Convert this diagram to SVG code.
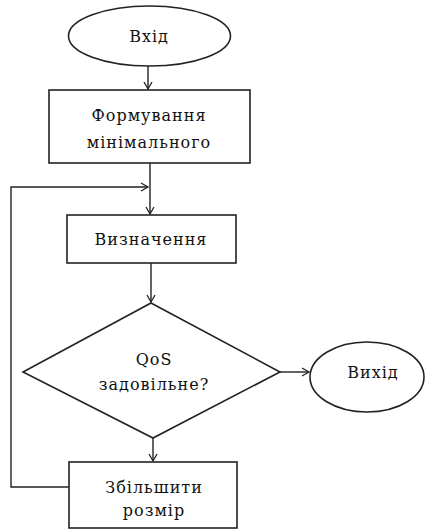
<svg xmlns="http://www.w3.org/2000/svg" width="428" height="531" viewBox="0 0 428 531">
<style>
.s{fill:#fff;stroke:#222;stroke-width:1.6}
.t{font-family:"DejaVu Serif","Liberation Serif",serif;font-size:16px;letter-spacing:1px;fill:#111;text-anchor:middle}
.c{fill:none;stroke:#222;stroke-width:1.4}
</style>
<defs>
<marker id="a" markerWidth="10" markerHeight="10" refX="8" refY="5" orient="auto" markerUnits="userSpaceOnUse">
<polyline points="1,1 8,5 1,9" fill="none" stroke="#222" stroke-width="1.3"/>
</marker>
</defs>
<rect width="428" height="531" fill="#fff"/>
<g id="connectors">
<line class="c" x1="148" y1="66" x2="148" y2="89" marker-end="url(#a)"/>
<line class="c" x1="150" y1="163" x2="150" y2="214" marker-end="url(#a)"/>
<line class="c" x1="151" y1="263" x2="151" y2="302" marker-end="url(#a)"/>
<line class="c" x1="280" y1="372" x2="309" y2="372" marker-end="url(#a)"/>
<line class="c" x1="153" y1="438" x2="153" y2="461" marker-end="url(#a)"/>
<polyline class="c" points="69,487 11,487 11,187 148,187" marker-end="url(#a)"/>
</g>
<g id="start">
<ellipse class="s" cx="149.5" cy="36" rx="81" ry="30"/>
<text class="t" x="149" y="42">Вхід</text>
</g>
<g id="form">
<rect class="s" x="49" y="90" width="201" height="73"/>
<text class="t" x="149" y="121">Формування</text>
<text class="t" x="149" y="148">мінімального</text>
</g>
<g id="define">
<rect class="s" x="67" y="215" width="169" height="48"/>
<text class="t" x="151" y="245">Визначення</text>
</g>
<g id="decision">
<polygon class="s" points="151,303 280,372 153,438 23,372"/>
<text class="t" x="154" y="365">QoS</text>
<text class="t" x="154" y="390">задовільне?</text>
</g>
<g id="exit">
<ellipse class="s" cx="367" cy="377" rx="57" ry="35"/>
<text class="t" x="373" y="378">Вихід</text>
</g>
<g id="increase">
<rect class="s" x="69" y="462" width="168" height="66"/>
<text class="t" x="154" y="493">Збільшити</text>
<text class="t" x="154" y="516">розмір</text>
</g>
</svg>
